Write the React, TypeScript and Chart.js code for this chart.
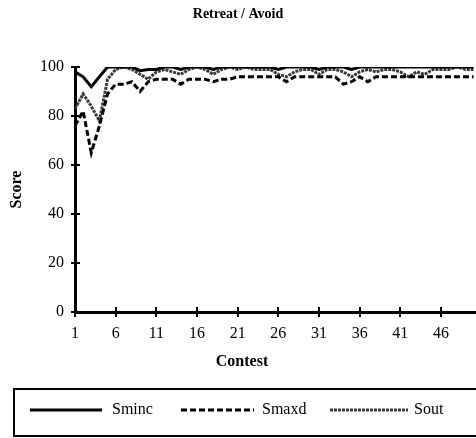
import React, { useEffect, useRef } from "react";
import { Chart, registerables } from "chart.js";

Chart.register(...registerables);

const TITLE = "Retreat / Avoid";
const X_TITLE = "Contest";
const Y_TITLE = "Score";

const CONTESTS = [
  1, 2, 3, 4, 5, 6, 7, 8, 9, 10, 11, 12, 13, 14, 15, 16, 17, 18, 19, 20, 21, 22, 23, 24, 25,
  26, 27, 28, 29, 30, 31, 32, 33, 34, 35, 36, 37, 38, 39, 40, 41, 42, 43, 44, 45, 46, 47, 48, 49, 50,
];

const SMINC = [
  98, 96, 92, 96, 100, 100, 100, 100, 98.5, 99, 99, 100, 100, 99, 100, 100, 100, 99, 100, 100, 100, 100, 100, 100, 100,
  99, 100, 100, 100, 100, 99, 100, 100, 100, 99, 100, 100, 100, 100, 100, 100, 100, 100, 100, 100, 100, 100, 100, 100, 100,
];

const SMAXD = [
  76, 82, 65, 76, 89, 93, 93, 94, 90, 94, 95, 95, 95, 93, 95, 95, 95, 94, 95, 95, 96, 96, 96, 96, 96,
  96, 94, 96, 96, 96, 96, 96, 96, 93, 94, 96, 94, 96, 96, 96, 96, 96, 96, 96, 96, 96, 96, 96, 96, 96,
];

const SOUT = [
  83, 89, 84, 78, 95, 99, 100, 99, 97, 95, 98, 99, 98, 97, 99, 100, 99, 97, 99, 100, 99, 100, 99, 99, 99,
  97, 96, 98, 99, 99, 97, 99, 99, 98, 96, 98, 99, 98, 99, 99, 98, 96, 98, 97, 99, 99, 99, 100, 99, 99,
];

const SERIES_NAMES = ["Sminc", "Smaxd", "Sout"];
const X_TICKS = [1, 6, 11, 16, 21, 26, 31, 36, 41, 46];
const Y_TICKS = [0, 20, 40, 60, 80, 100];

const SERIF = "'Liberation Serif', 'Times New Roman', Times, serif";

const overlayPlugin = {
  id: "overlay",
  afterDraw(chart: any) {
    const ctx = chart.ctx as CanvasRenderingContext2D;
    const xs = chart.scales.x;
    const ys = chart.scales.y;
    const area = chart.chartArea;
    ctx.save();
    ctx.strokeStyle = "#000";
    ctx.lineWidth = 2;
    ctx.setLineDash([]);
    X_TICKS.forEach((v) => {
      const px = Math.round(xs.getPixelForValue(v));
      ctx.beginPath();
      ctx.moveTo(px, area.bottom - 5);
      ctx.lineTo(px, area.bottom + 5);
      ctx.stroke();
    });
    Y_TICKS.forEach((v) => {
      const py = Math.round(ys.getPixelForValue(v));
      ctx.beginPath();
      ctx.moveTo(area.left - 4, py);
      ctx.lineTo(area.left + 5, py);
      ctx.stroke();
    });

    ctx.fillStyle = "#000";
    ctx.font = `bold 16px ${SERIF}`;
    ctx.textAlign = "center";
    ctx.textBaseline = "middle";
    ctx.fillText(X_TITLE, 242, 362);
    ctx.save();
    ctx.translate(17, (area.top + area.bottom) / 2);
    ctx.rotate(-Math.PI / 2);
    ctx.fillText(Y_TITLE, 0, 0);
    ctx.restore();

    // legend box
    ctx.lineWidth = 2;
    ctx.strokeRect(14, 389, 470, 47);
    const ly = 410;
    const items = [
      { x0: 30, x1: 102, tx: 112 },
      { x0: 181, x1: 254, tx: 262 },
      { x0: 330, x1: 408, tx: 414 },
    ];
    ctx.font = `16px ${SERIF}`;
    ctx.textAlign = "left";
    chart.data.datasets.forEach((ds: any, i: number) => {
      const it = items[i];
      ctx.save();
      ctx.strokeStyle = ds.borderColor;
      ctx.lineWidth = ds.borderWidth;
      ctx.setLineDash(ds.borderDash || []);
      ctx.beginPath();
      ctx.moveTo(it.x0, ly);
      ctx.lineTo(it.x1, ly);
      ctx.stroke();
      ctx.restore();
      ctx.fillText(ds.label, it.tx, ly);
    });
    ctx.restore();
  },
};

export default function App() {
  const ref = useRef<HTMLCanvasElement | null>(null);

  useEffect(() => {
    if (!ref.current) return;
    const toPts = (vals: number[]) => CONTESTS.map((c, i) => ({ x: c, y: vals[i] }));
    const chart = new Chart(ref.current, {
      type: "line",
      data: {
        datasets: [
          {
            label: SERIES_NAMES[0],
            data: toPts(SMINC),
            borderColor: "#000",
            borderWidth: 3,
            pointRadius: 0,
            tension: 0,
          },
          {
            label: SERIES_NAMES[1],
            data: toPts(SMAXD),
            borderColor: "#000",
            borderWidth: 3,
            borderDash: [6, 3],
            pointRadius: 0,
            tension: 0,
          },
          {
            label: SERIES_NAMES[2],
            data: toPts(SOUT),
            borderColor: "#3a3a3a",
            borderWidth: 3,
            borderDash: [3, 1],
            pointRadius: 0,
            tension: 0,
          },
        ],
      },
      options: {
        animation: false,
        responsive: true,
        maintainAspectRatio: false,
        layout: { padding: 0 },
        plugins: {
          legend: { display: false },
          tooltip: { enabled: false },
          title: {
            display: true,
            text: TITLE,
            color: "#000",
            font: { family: SERIF, size: 14, weight: "bold" },
            padding: { top: 5.6, bottom: 44.6 },
          },
        },
        scales: {
          x: {
            type: "linear",
            min: 1,
            max: 50.3,
            grid: { display: false, drawTicks: false },
            border: { display: true, color: "#000", width: 3 },
            afterBuildTicks: (scale: any) => {
              scale.ticks = X_TICKS.map((v) => ({ value: v }));
            },
            afterFit: (scale: any) => {
              scale.height = 126;
            },
            ticks: {
              color: "#000",
              font: { family: SERIF, size: 16 },
              padding: 12,
              maxRotation: 0,
              autoSkip: false,
            },
          },
          y: {
            min: 0,
            max: 100,
            grid: { display: false, drawTicks: false },
            border: { display: true, color: "#000", width: 3 },
            afterBuildTicks: (scale: any) => {
              scale.ticks = Y_TICKS.map((v) => ({ value: v }));
            },
            afterFit: (scale: any) => {
              scale.width = 75;
            },
            ticks: {
              color: "#000",
              font: { family: SERIF, size: 16 },
              padding: 11,
            },
          },
        },
      },
      plugins: [overlayPlugin],
    } as any);
    return () => chart.destroy();
  }, []);

  return (
    <div style={{ position: "fixed", left: 0, top: 0, width: 476, height: 438, background: "#fff" }}>
      <canvas ref={ref} />
    </div>
  );
}
